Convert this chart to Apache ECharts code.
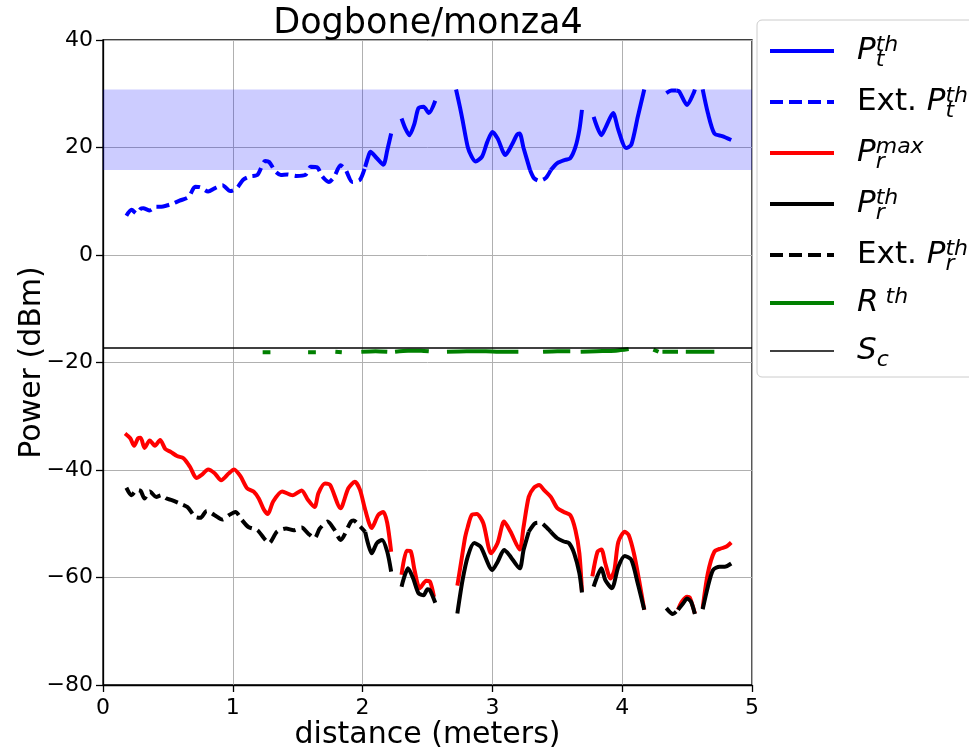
<!DOCTYPE html>
<html>
<head>
<meta charset="utf-8">
<script src="https://cdn.jsdelivr.net/npm/echarts@6/dist/echarts.min.js"></script>
<style>html,body{margin:0;padding:0;background:#fff}#c{width:969px;height:751px}</style>
</head>
<body>
<div id="c"></div>
<script>
// ---- data (distance in meters, power in dBm) ----
const xTicks = [0, 1, 2, 3, 4, 5];
const yTicks = [-80, -60, -40, -20, 0, 20, 40];
const bandRange = [15.8, 30.8];
const scLevel = -17.3;

// P_t^th (solid segments)
const ptSolid = [
  [[2.02,16.4],[2.04,18.0],[2.06,19.2],[2.11,18.0],[2.16,16.8],[2.19,19.5],[2.22,22.6]],
  [[2.30,25.4],[2.33,23.5],[2.36,22.3],[2.40,24.5],[2.43,27.3],[2.47,27.6],[2.51,26.4],[2.56,28.7]],
  [[2.72,30.8],[2.75,27.5],[2.77,25.1],[2.81,20.1],[2.84,18.3],[2.87,17.4],[2.92,18.3],[2.96,21.0],[3.00,22.9],[3.04,21.7],[3.10,18.6],[3.15,20.5],[3.19,22.4],[3.21,22.6],[3.24,19.9],[3.29,15.8]],
  [[3.45,15.8],[3.50,17.1],[3.56,17.7],[3.60,18.0],[3.64,20.1],[3.67,23.3],[3.69,27.0]],
  [[3.78,25.7],[3.84,22.3],[3.87,23.6],[3.93,26.4],[3.97,23.3],[4.03,19.9],[4.07,20.5],[4.12,25.7],[4.17,30.8]],
  [[4.42,30.6],[4.44,30.4],[4.50,27.9],[4.55,30.1],[4.56,30.8]],
  [[4.62,30.8],[4.66,26.4],[4.71,22.6],[4.77,22.1],[4.84,21.4]]
];
// Ext. P_t^th (dashed segments)
const ptExt = [
  [[0.18,7.3],[0.22,8.4],[0.26,7.7],[0.29,8.6],[0.31,8.7],[0.36,8.3],[0.41,9.0],[0.45,9.0],[0.49,9.2],[0.53,9.5],[0.59,10.1],[0.66,10.8],[0.71,12.7],[0.75,12.6],[0.81,11.8],[0.86,12.4],[0.92,13.0],[0.98,11.9],[1.03,12.4],[1.08,14.0],[1.13,14.6],[1.19,14.9],[1.25,17.5],[1.28,17.3],[1.33,15.5],[1.37,14.9],[1.42,15.0],[1.49,14.7],[1.56,14.9],[1.60,16.4],[1.65,16.3],[1.69,14.6],[1.74,13.6],[1.78,14.5],[1.83,16.7],[1.87,15.8],[1.92,13.6],[1.98,14.0],[2.02,16.4]],
  [[3.29,15.8],[3.32,14.3],[3.36,13.8],[3.41,14.3],[3.45,15.8]],
  [[4.34,30.1],[4.38,30.6],[4.42,30.6]]
];
// P_r^max
const prMax = [
  [[0.17,-33.2],[0.21,-34.1],[0.24,-35.5],[0.27,-34.1],[0.29,-34.0],[0.32,-35.9],[0.36,-34.5],[0.40,-35.5],[0.44,-34.4],[0.48,-36.1],[0.52,-36.6],[0.57,-37.4],[0.62,-37.8],[0.67,-39.4],[0.72,-41.5],[0.76,-40.9],[0.81,-39.9],[0.86,-40.6],[0.91,-41.9],[0.97,-40.6],[1.01,-39.9],[1.06,-41.2],[1.11,-43.4],[1.16,-44.0],[1.20,-45.3],[1.24,-47.4],[1.27,-48.2],[1.31,-45.9],[1.38,-44.0],[1.46,-44.7],[1.53,-43.8],[1.58,-45.6],[1.63,-46.9],[1.66,-44.3],[1.71,-42.5],[1.75,-42.8],[1.83,-47.1],[1.89,-43.4],[1.94,-42.2],[1.98,-43.7],[2.02,-47.4],[2.07,-50.8],[2.12,-48.4],[2.16,-47.8],[2.19,-49.9],[2.22,-55.2]],
  [[2.30,-59.5],[2.34,-55.0],[2.37,-55.1],[2.40,-58.6],[2.44,-62.0],[2.49,-60.6],[2.52,-60.8],[2.55,-63.6]],
  [[2.73,-61.5],[2.76,-57.0],[2.79,-52.5],[2.81,-50.6],[2.84,-48.4],[2.88,-48.2],[2.93,-49.9],[2.99,-55.5],[3.04,-53.6],[3.09,-49.6],[3.14,-51.5],[3.21,-54.8],[3.24,-50.6],[3.28,-45.0],[3.32,-43.3],[3.36,-42.8],[3.40,-43.8],[3.45,-45.0],[3.50,-47.1],[3.55,-47.8],[3.60,-48.4],[3.64,-51.2],[3.67,-55.5],[3.69,-62.6]],
  [[3.77,-59.8],[3.81,-55.2],[3.84,-54.8],[3.87,-57.4],[3.91,-60.2],[3.94,-58.6],[3.97,-53.4],[4.02,-51.5],[4.05,-52.1],[4.09,-55.5],[4.13,-60.5],[4.17,-66.0]],
  [[4.43,-66.0],[4.46,-64.5],[4.50,-63.6],[4.52,-63.7],[4.56,-66.7]],
  [[4.62,-65.7],[4.66,-59.2],[4.71,-55.2],[4.76,-54.6],[4.80,-54.3],[4.84,-53.5]]
];
// P_r^th (solid)
const prSolid = [
  [[2.02,-51.5],[2.07,-55.5],[2.11,-53.6],[2.15,-53.0],[2.19,-55.2],[2.22,-58.9]],
  [[2.30,-61.7],[2.35,-58.3],[2.39,-60.2],[2.43,-62.9],[2.47,-63.3],[2.50,-62.2],[2.52,-62.4],[2.56,-64.7]],
  [[2.73,-66.7],[2.77,-60.5],[2.81,-56.1],[2.86,-53.6],[2.91,-54.3],[3.00,-58.6],[3.04,-57.1],[3.09,-54.9],[3.13,-55.8],[3.21,-58.3],[3.24,-54.9],[3.28,-51.5]],
  [[3.45,-51.5],[3.50,-52.7],[3.55,-53.3],[3.59,-53.6],[3.63,-55.5],[3.67,-59.2],[3.69,-62.8]],
  [[3.78,-61.7],[3.84,-58.3],[3.87,-60.5],[3.92,-62.0],[3.97,-58.0],[4.02,-56.0],[4.07,-56.7],[4.12,-61.1],[4.17,-66.0]],
  [[4.43,-66.0],[4.47,-64.8],[4.50,-63.9],[4.53,-64.5],[4.56,-66.8]],
  [[4.62,-65.9],[4.66,-61.7],[4.70,-58.6],[4.75,-58.0],[4.79,-58.0],[4.84,-57.4]]
];
// Ext. P_r^th (dashed)
const prExt = [
  [[0.18,-43.3],[0.22,-44.7],[0.26,-43.7],[0.29,-43.9],[0.32,-45.3],[0.36,-44.0],[0.41,-45.0],[0.45,-44.7],[0.49,-45.3],[0.53,-45.6],[0.59,-46.2],[0.65,-46.9],[0.71,-48.7],[0.75,-48.9],[0.80,-47.6],[0.86,-48.4],[0.92,-49.2],[0.97,-48.4],[1.02,-47.8],[1.07,-49.3],[1.12,-50.6],[1.19,-51.2],[1.24,-52.7],[1.28,-53.6],[1.34,-51.5],[1.41,-50.9],[1.47,-51.2],[1.53,-50.7],[1.58,-51.8],[1.63,-52.7],[1.67,-50.9],[1.73,-49.6],[1.78,-51.0],[1.83,-53.0],[1.91,-49.6],[1.93,-49.4],[1.98,-50.5],[2.02,-51.5]],
  [[3.28,-51.5],[3.33,-49.9],[3.37,-49.8],[3.41,-50.5],[3.45,-51.5]],
  [[4.34,-65.7],[4.39,-66.8],[4.43,-66.0]]
];
// R^th
const rTh = [
  [[1.23,-18.1],[1.29,-18.1]],
  [[1.58,-18.1],[1.64,-18.1]],
  [[1.79,-18.0],[1.84,-18.1]],
  [[1.99,-18.0],[2.10,-17.9],[2.19,-18.0]],
  [[2.25,-18.0],[2.35,-17.8],[2.45,-17.8],[2.51,-17.9]],
  [[2.65,-18.0],[2.80,-17.9],[2.95,-17.9],[3.05,-18.0],[3.20,-18.0]],
  [[3.39,-18.0],[3.50,-17.9],[3.60,-17.9]],
  [[3.68,-18.0],[3.80,-17.9],[3.95,-17.8],[4.05,-17.5]],
  [[4.24,-17.6],[4.28,-18.0]],
  [[4.31,-18.0],[4.43,-18.0]],
  [[4.49,-18.0],[4.60,-18.0],[4.71,-18.0]]
];

function joinSegs(segs) {
  const out = [];
  segs.forEach((s, i) => {
    if (i > 0) out.push([(segs[i-1][segs[i-1].length-1][0] + s[0][0]) / 2, '-']);
    s.forEach(p => out.push(p));
  });
  return out;
}

const FONT = 'DejaVu Sans';
const dash = [13, 6];
const LW = 4;

const labelMap = {
  'P_t^th':      '{gap|}{P|P}{sub0|t}{sup|th}',
  'Ext. P_t^th': '{gap|}{n|Ext. }{P|P}{sub0|t}{sup|th}',
  'P_r^max':     '{gap|}{P|P}{sub0|r}{sup|max}',
  'P_r^th':      '{gap|}{P|P}{sub0|r}{sup|th}',
  'Ext. P_r^th': '{gap|}{n|Ext. }{P|P}{sub0|r}{sup|th}',
  'R^th':        '{gap|}{P|R}{sup| th}',
  'S_c':         '{gap|}{P|S}{sub|c}'
};

function lineSeries(name, segs, color, type, width, z) {
  return {
    name: name, type: 'line', data: joinSegs(segs),
    showSymbol: false, symbol: 'none', smooth: 0.25, connectNulls: false,
    lineStyle: { color: color, width: width, type: type, cap: 'butt' },
    itemStyle: { color: color },
    z: z, clip: true, animation: false
  };
}

const chart = echarts.init(document.getElementById('c'), null, { renderer: 'canvas' });

const series = [
  lineSeries('P_t^th', ptSolid, '#0000ff', 'solid', LW, 5),
  lineSeries('Ext. P_t^th', ptExt, '#0000ff', dash, LW, 5),
  lineSeries('P_r^max', prMax, '#ff0000', 'solid', LW, 5),
  lineSeries('P_r^th', prSolid, '#000000', 'solid', LW, 6),
  lineSeries('Ext. P_r^th', prExt, '#000000', dash, LW, 6),
  lineSeries('R^th', rTh, '#008000', 'solid', LW, 5),
  lineSeries('S_c', [[[xTicks[0], scLevel], [xTicks[xTicks.length-1], scLevel]]], '#000000', 'solid', 1.6, 7)
];
series[0].markArea = {
  silent: true,
  itemStyle: { color: 'rgba(0,0,255,0.2)' },
  data: [[{ yAxis: bandRange[0] }, { yAxis: bandRange[1] }]]
};

chart.setOption({
  backgroundColor: '#ffffff',
  animation: false,
  textStyle: { fontFamily: FONT },
  title: {
    text: 'Dogbone/monza4', left: 423, top: 1, textAlign: 'center',
    textStyle: { fontFamily: FONT, fontSize: 35, fontWeight: 'normal', color: '#000' }
  },
  grid: { left: 103, right: 217, top: 40, bottom: 66, show: true, borderColor: '#000', borderWidth: 1.3,
          backgroundColor: 'transparent', containLabel: false, outerBoundsMode: 'none' },
  xAxis: {
    type: 'value', min: xTicks[0], max: xTicks[xTicks.length-1], interval: 1,
    name: 'distance (meters)', nameLocation: 'middle', nameGap: 35, nameMoveOverlap: false,
    nameTextStyle: { fontFamily: FONT, fontSize: 30, color: '#000', verticalAlign: 'top' },
    axisLine: { show: true, onZero: false, lineStyle: { color: '#000', width: 1.3 } },
    axisTick: { show: true, inside: false, length: 7, lineStyle: { color: '#000', width: 1.3 } },
    axisLabel: { fontFamily: FONT, fontSize: 22, color: '#000', margin: 12 },
    splitLine: { show: true, lineStyle: { color: '#b0b0b0', width: 1 } }
  },
  yAxis: {
    type: 'value', min: yTicks[0], max: yTicks[yTicks.length-1], interval: 20,
    name: 'Power (dBm)', nameLocation: 'middle', nameGap: 56, nameRotate: 90, nameMoveOverlap: false,
    nameTextStyle: { fontFamily: FONT, fontSize: 30, color: '#000' },
    axisLine: { show: true, onZero: false, lineStyle: { color: '#000', width: 1.3 } },
    axisTick: { show: true, inside: false, length: 7, lineStyle: { color: '#000', width: 1.3 } },
    axisLabel: { fontFamily: FONT, fontSize: 22, color: '#000', margin: 10,
      formatter: v => (v < 0 ? '\u2212' + Math.abs(v) : String(v)) },
    splitLine: { show: true, lineStyle: { color: '#b0b0b0', width: 1 } }
  },
  legend: {
    orient: 'vertical', left: 757, top: 20,
    padding: [11, 30, 6, 11],
    itemWidth: 64, itemHeight: 14, itemGap: 11,
    backgroundColor: 'rgba(255,255,255,0.8)', borderColor: '#cccccc', borderWidth: 1, borderRadius: 5,
    selectedMode: false,
    itemStyle: { opacity: 0 },
    lineStyle: { width: 'inherit' },
    formatter: name => labelMap[name] || name,
    textStyle: {
      fontFamily: FONT, color: '#000',
      rich: {
        gap: { width: 18, lineHeight: 44 },
        n: { fontFamily: FONT, fontSize: 31, lineHeight: 44, color: '#000' },
        P: { fontFamily: FONT, fontStyle: 'italic', fontSize: 31, lineHeight: 44, color: '#000' },
        sup: { fontFamily: FONT, fontStyle: 'italic', fontSize: 22, lineHeight: 22, padding: [0, 0, 12, 0], color: '#000' },
        sub: { fontFamily: FONT, fontStyle: 'italic', fontSize: 22, lineHeight: 22, padding: [18, 0, 0, 0], color: '#000' },
        sub0: { fontFamily: FONT, fontStyle: 'italic', fontSize: 22, lineHeight: 22, padding: [18, 0, 0, 0], width: 0.001, color: '#000' }
      }
    },
    data: series.map(s => s.name)
  },
  series: series
});
</script>
</body>
</html>
